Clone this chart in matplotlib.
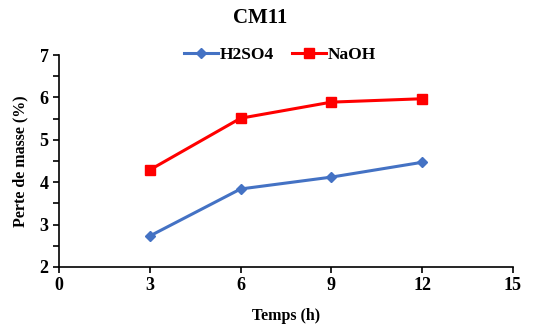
import matplotlib
matplotlib.use("Agg")
import matplotlib.pyplot as plt
from matplotlib.ticker import MultipleLocator

plt.rcParams["font.family"] = ["Liberation Serif", "DejaVu Serif"]
plt.rcParams["font.weight"] = "bold"

hours = [3, 6, 9, 12]
h2so4 = [2.73, 3.84, 4.12, 4.47]
naoh = [4.29, 5.51, 5.89, 5.97]

fig = plt.figure(figsize=(5.34, 3.32), dpi=100)
ax = fig.add_axes([0.1105, 0.196, 0.85, 0.638])

ax.plot(hours, h2so4, color="#4472C4", marker="D", markersize=5, lw=2.2, label="H2SO4")
ax.plot(hours, naoh, color="#FF0000", marker="s", markersize=7, lw=2.2, label="NaOH")

ax.set_xlim(0, 15)
ax.set_ylim(2, 7)
ax.xaxis.set_major_locator(MultipleLocator(3))
ax.yaxis.set_major_locator(MultipleLocator(1))
ax.yaxis.set_minor_locator(MultipleLocator(0.5))
ax.spines["top"].set_visible(False)
ax.spines["right"].set_visible(False)
for s in ("left", "bottom"):
    ax.spines[s].set_linewidth(1.2)
ax.tick_params(which="both", direction="out", width=1.2, labelsize=13)
ax.tick_params(which="major", length=4)
ax.tick_params(which="minor", length=4)

ax.set_xlabel("Temps (h)", fontsize=11.5, fontweight="bold", labelpad=10)
ax.set_ylabel("Perte de masse (%)", fontsize=11.5, fontweight="bold", labelpad=8)
fig.text(0.487, 0.945, "CM11", ha="center", va="center", fontsize=15, fontweight="bold")
ax.legend(loc="center", bbox_to_anchor=(0.487, 1.0), ncol=2, frameon=False,
          fontsize=12.5, handlelength=2, columnspacing=1.0, handletextpad=0.1)

fig.savefig("out.png", dpi=100)
